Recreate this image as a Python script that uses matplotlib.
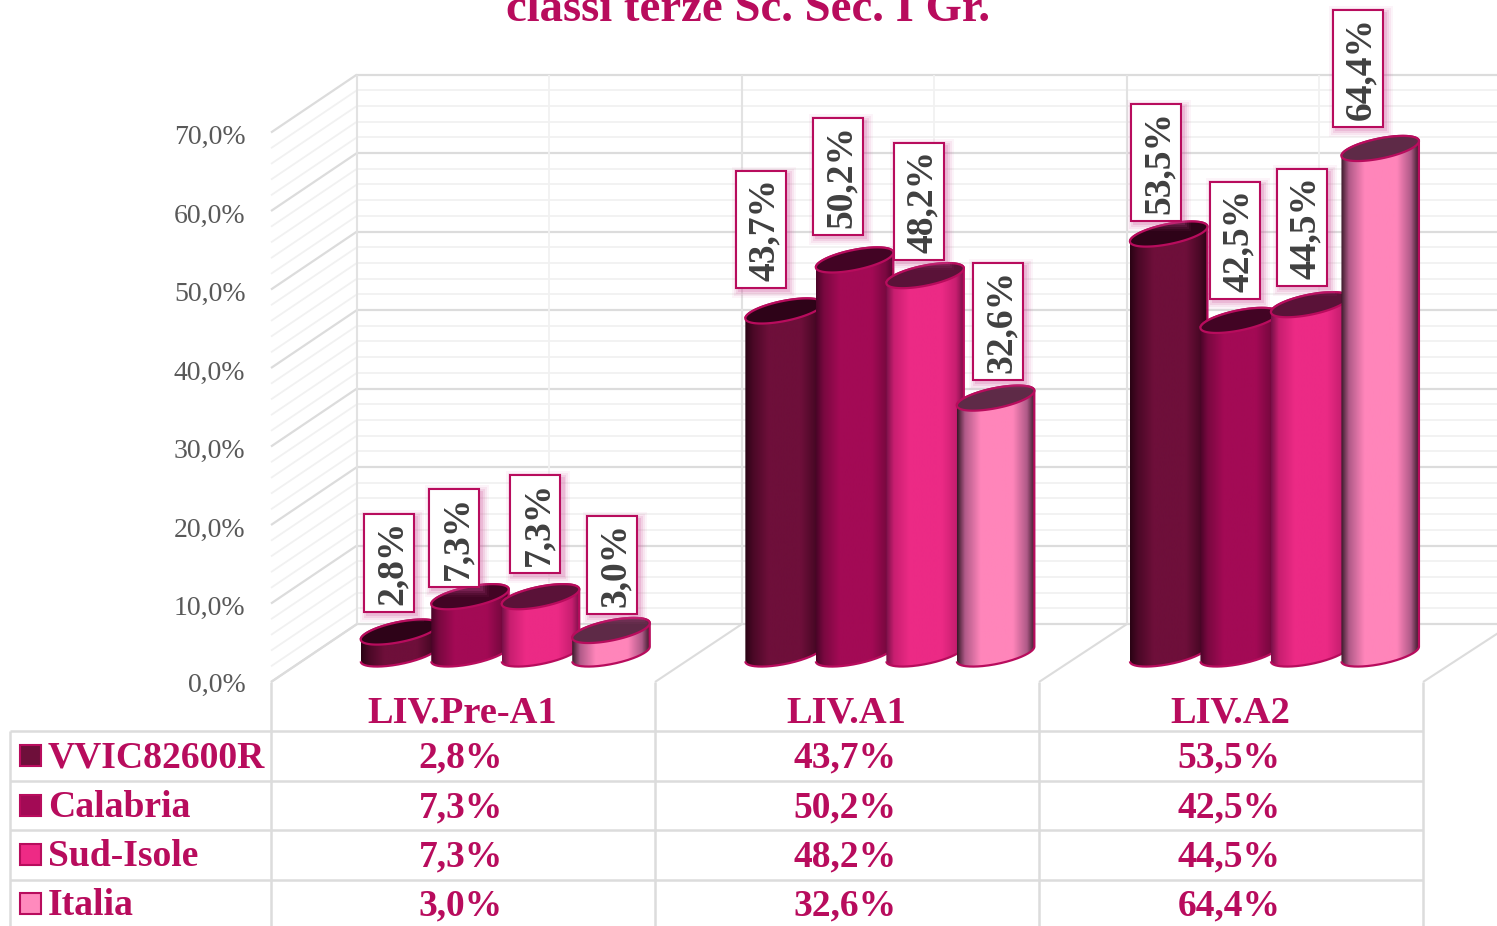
import numpy as np
import matplotlib
matplotlib.use("Agg")
import matplotlib.pyplot as plt
from matplotlib.colors import LinearSegmentedColormap
from matplotlib.patches import PathPatch, Rectangle
from matplotlib.path import Path

plt.rcParams['font.family'] = ['Liberation Serif', 'DejaVu Serif']

# ---------- data ----------
title = "classi terze Sc. Sec. I Gr."
categories = ["LIV.Pre-A1", "LIV.A1", "LIV.A2"]
series_names = ["VVIC82600R", "Calabria", "Sud-Isole", "Italia"]
vvic = [2.8, 43.7, 53.5]
calabria = [7.3, 50.2, 42.5]
sud_isole = [7.3, 48.2, 44.5]
italia = [3.0, 32.6, 64.4]
series_values = [vvic, calabria, sud_isole, italia]
y_ticks = [0, 10, 20, 30, 40, 50, 60, 70]

# ---------- styles ----------
W, H = 1497, 926
PX_CAT = 384.0      # pixels per category
X0_PX = 271.0       # left edge of plot (front)
Y0_PX = 682.0       # 0% on the front plane
PX_PCT = 7.85       # pixels per percent point
DEPTH_X, DEPTH_Y = 86.0, 58.0
BASE_Y_PX = 27.0    # bar base centre above front 0 line
MAIN = "#B80C5D"
GREY = "#595959"
fill = ["#6E0F3A", "#A30A55", "#EC2A85", "#FF85BA"]
dark = ["#2A0314", "#4A0428", "#7A1048", "#3A1A2A"]
soft = ["#4A0826", "#7A0840", "#C81E70", "#B05A88"]
cap = ["#2E0318", "#420424", "#5A1238", "#5E2A47"]
legend_fill = ["#6E0F3A", "#A30A55", "#EE2A85", "#FF8ABD"]
label_dx = [[-11, -16, -5.5, 1], [-23, -16.5, -6, 3], [-12, -3.5, -7, -21.5]]
label_gap = [[21, 11, 25, 17.5], [24, 26, 17, 19], [14, 22, 20, 22]]

fig = plt.figure(figsize=(W / 100, H / 100), dpi=100, facecolor="white")
ax = fig.add_axes([0, 0, 1, 1])
ax.set_xlim(-X0_PX / PX_CAT, (W - X0_PX) / PX_CAT)
ax.set_ylim((Y0_PX - H) / PX_PCT, Y0_PX / PX_PCT)
ax.axis("off")

dx = 1.0 / PX_CAT   # data units per pixel, x
dy = 1.0 / PX_PCT   # data units per pixel, y


def line(x, y, color, lw, z=1):
    ax.plot(x, y, color=color, lw=lw, zorder=z, solid_capstyle="butt")


# ---------- walls ----------
top = y_ticks[-1]
back_x0 = DEPTH_X * dx
back_y = DEPTH_Y * dy
for v in np.arange(0, top + 0.1, 2):
    major = (v % 10) == 0
    c, lw = ("#DCDCDC", 1.6) if major else ("#F1F1F1", 1.3)
    line([back_x0, ax.get_xlim()[1]], [v + back_y] * 2, c, lw)
    line([0, back_x0], [v, v + back_y], c, lw)
for i in range(4):
    bx = i + back_x0 + i * dx
    line([bx] * 2, [back_y, top + back_y], "#E2E2E2", 1.5)
    if i < 3:
        line([bx + 0.5] * 2, [back_y, top + back_y], "#F1F1F1", 1.3)
    line([i, bx], [0, back_y], "#DCDCDC", 1.5)

# ---------- y tick labels ----------
for v in y_ticks:
    ax.text(-25.5 * dx, v - 5 * dy if v else v - 3.5 * dy, f"{v:.1f}%".replace(".", ","),
            ha="right", va="center", fontsize=20, color=GREY, zorder=2)


# ---------- cylinders ----------
A, B, TILT = 39.5, 10.0, np.deg2rad(11.5)
theta = np.linspace(0, 2 * np.pi, 241)[:-1]
ex = A * np.cos(theta) * np.cos(TILT) - B * np.sin(theta) * np.sin(TILT)
ey = A * np.cos(theta) * np.sin(TILT) + B * np.sin(theta) * np.cos(TILT)
i_min, i_max = int(np.argmin(ex)), int(np.argmax(ex))
# lower arc from leftmost to rightmost point
order = np.roll(np.arange(len(theta)), -i_min)
lower = order[: ((i_max - i_min) % len(theta)) + 1]
upper = np.append(order[((i_max - i_min) % len(theta)):], i_min)

z = 10
for g in range(len(categories)):
    for s, vals in enumerate(series_values):
        v = vals[g]
        cx = g + (89.5 + 70.5 * s + 39 + g * 0.6) * dx
        by = (BASE_Y_PX + 1) * dy
        ty = by + v
        # body outline
        px = np.r_[ex[lower], ex[upper]] * dx + cx
        py = np.r_[ey[lower] * dy + by, ey[upper] * dy + ty]
        body = Path(np.c_[px, py], closed=False)
        cmap = LinearSegmentedColormap.from_list(
            "c", [(0, dark[s]), (0.1, soft[s]), (0.3, fill[s]), (0.72, fill[s]),
                  (0.9, soft[s]), (1, dark[s])])
        x_l, x_r = cx + ex.min() * dx, cx + ex.max() * dx
        grad = np.linspace(0, 1, 128)[None, :]
        im = ax.imshow(grad, cmap=cmap, aspect="auto", zorder=z, interpolation="bilinear",
                       extent=(x_l, x_r, by - 20 * dy, ty + 20 * dy))
        outline = PathPatch(body, fc="none", ec=MAIN, lw=1.6, zorder=z + 1)
        ax.add_patch(outline)
        im.set_clip_path(outline)
        ax.fill(cx + ex * dx, ty + ey * dy, fc=cap[s], ec=MAIN, lw=1.6, zorder=z + 2)
        z += 3

ax.set_xlim(-X0_PX / PX_CAT, (W - X0_PX) / PX_CAT)
ax.set_ylim((Y0_PX - H) / PX_PCT, Y0_PX / PX_PCT)

# ---------- data labels ----------
for g in range(len(categories)):
    for s, vals in enumerate(series_values):
        v = vals[g]
        cx = g + (90 + 70.5 * s + 39) * dx + label_dx[g][s] * dx
        b = BASE_Y_PX * dy + v + label_gap[g][s] * dy
        h = (98 if v < 10 else 117) * dy
        w = 50 * dx
        for k, a in ((7, 0.06), (5, 0.09), (3, 0.13), (1, 0.18)):
            ax.add_patch(Rectangle((cx - w / 2 + (3 - k) * dx, b - (3 + k) * dy),
                                   w + (2 * k) * dx, h + (2 * k) * dy,
                                   fc="#D0509A", ec="none", alpha=a, zorder=100))
        ax.add_patch(Rectangle((cx - w / 2, b), w, h, fc="white", ec=MAIN, lw=1.5, zorder=101))
        ax.text(cx + 3 * dx, b + h / 2, f"{v:.1f}%".replace(".", ","), rotation=90, ha="center",
                va="center", fontsize=27, fontweight="bold", color="#404040", zorder=102)

# ---------- data table ----------
row_y = [-75.5 * dy, -125.5 * dy, -174.5 * dy, -223.5 * dy]
rule_y = [-49 * dy, -99 * dy, -148 * dy, -198 * dy]
table_left = -261 * dx
for y in rule_y:
    line([table_left, 3], [y, y], "#DCDCDC", 1.8, z=3)
line([table_left, table_left], [rule_y[0], ax.get_ylim()[0]], "#DCDCDC", 1.8, z=3)
for i in range(4):
    line([i, i], [0, ax.get_ylim()[0]], "#DCDCDC", 1.8, z=3)

for i, c in enumerate(categories):
    ax.text(i + 0.5 - 1 * dx, -31 * dy, c, ha="center", va="center", fontsize=27.7,
            fontweight="bold", color=MAIN, zorder=5)

for s, name in enumerate(series_names):
    ax.add_patch(Rectangle((-251 * dx, row_y[s] + 2 * dy - 10.5 * dy), 21 * dx, 21 * dy,
                           fc=legend_fill[s], ec=MAIN, lw=1.5, zorder=5))
    ax.text(-223 * dx, row_y[s], name, ha="left", va="center", fontsize=27.1,
            fontweight="bold", color=MAIN, zorder=5)
    for g in range(len(categories)):
        ax.text(g + 0.5 - 2 * dx, row_y[s], f"{series_values[s][g]:.1f}%".replace(".", ","),
                ha="center", va="center", fontsize=27,
                fontweight="bold", color=MAIN, zorder=5)

# ---------- title ----------
ax.text(477 * dx, Y0_PX * dy - 21 * dy, title, ha="center", va="baseline", fontsize=33.7,
        fontweight="bold", color=MAIN, zorder=5)

fig.savefig("out.png", dpi=100)
